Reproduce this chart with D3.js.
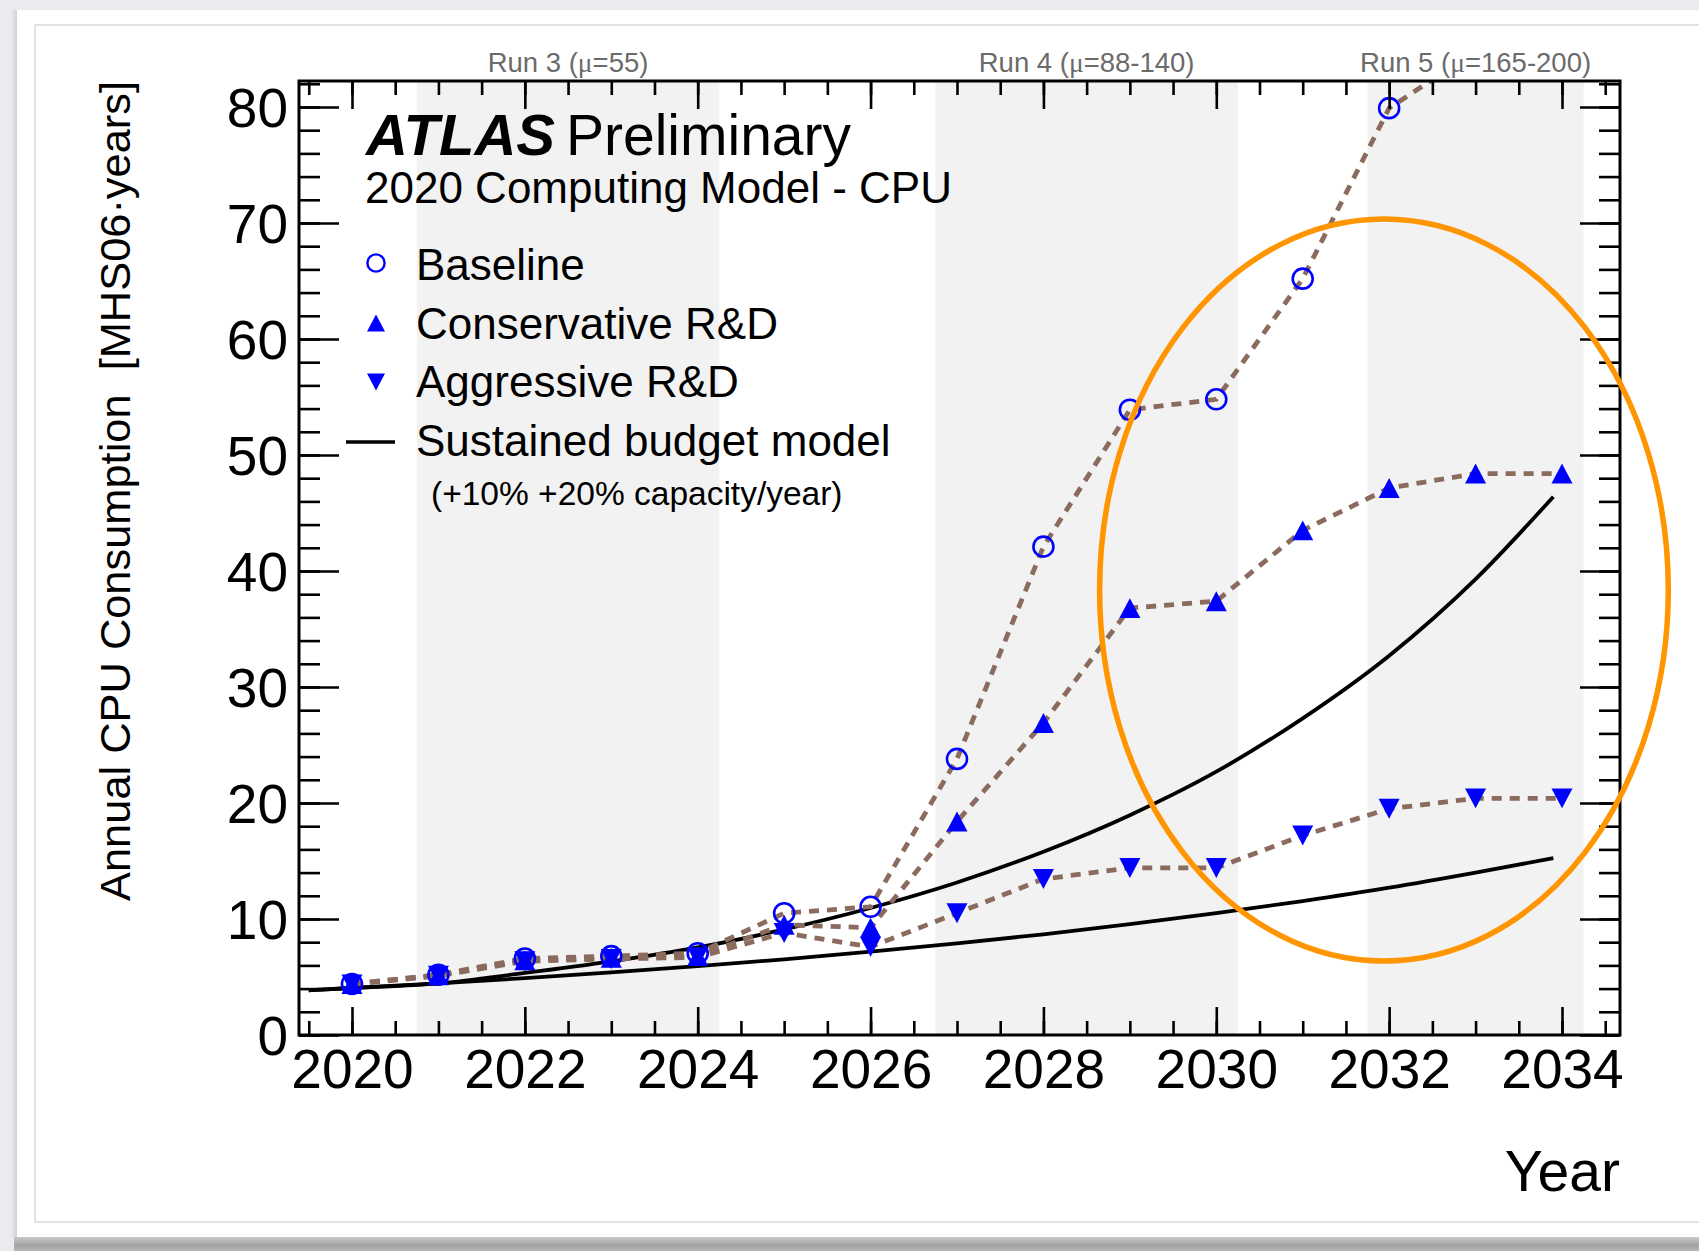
<!DOCTYPE html>
<html>
<head>
<meta charset="utf-8">
<script src="https://cdn.jsdelivr.net/npm/d3@7"></script>
<style>
  html, body { margin: 0; padding: 0; background: #e9ebee; overflow: hidden; }
  svg { display: block; }
  text { font-family: "Liberation Sans", Arial, Helvetica, sans-serif; white-space: pre; }
</style>
</head>
<body>
<svg id="chart" width="1699" height="1251"></svg>
<script>
// ---------------- data ----------------
const years = [2020, 2021, 2022, 2023, 2024, 2025, 2026, 2027, 2028, 2029, 2030, 2031, 2032, 2033, 2034];
const baseline     = [4.4, 5.2, 6.6, 6.8, 7.05, 10.5, 11.05, 23.8, 42.1, 53.9, 54.8, 65.2, 79.9, 84.8, 88.5];
const conservative = [4.4, 5.15, 6.45, 6.65, 6.8, 9.5, 9.25, 18.4, 26.9, 36.8, 37.4, 43.5, 47.15, 48.4, 48.4];
const aggressive   = [4.35, 5.1, 6.35, 6.55, 6.7, 8.8, 7.6, 10.5, 13.45, 14.4, 14.4, 17.2, 19.5, 20.4, 20.4];

const budgetYears = [2019.5, 2020, 2021, 2022, 2023, 2024, 2025, 2026, 2027, 2028, 2029, 2030, 2031, 2032, 2033, 2033.9];
const budget10 = [3.85, 4.05, 4.45, 4.9, 5.4, 5.93, 6.52, 7.18, 7.9, 8.68, 9.55, 10.5, 11.55, 12.7, 14.0, 15.25];
const budget20 = [3.85, 4.05, 4.45, 5.35, 6.35, 7.55, 9.1, 10.95, 13.15, 15.8, 18.95, 22.7, 27.3, 32.7, 39.3, 46.4];

const runBands  = [[2020.75, 2024.25], [2026.75, 2030.25], [2031.75, 2034.25]];
const runNames  = ["Run 3 (", "Run 4 (", "Run 5 ("];
const runMu     = ["=55)", "=88-140)", "=165-200)"];

const xTickLabels = [2020, 2022, 2024, 2026, 2028, 2030, 2032, 2034];
const yTickLabels = [0, 10, 20, 30, 40, 50, 60, 70, 80];

const legendLabels = ["Baseline", "Conservative R&D", "Aggressive R&D", "Sustained budget model"];
const legendNote = "(+10% +20% capacity/year)";

// highlight ellipse (data coordinates)
const ellipseCenter = [2031.94, 38.36];
const ellipseRadii  = [3.29, 31.98];

// ---------------- layout ----------------
const svg = d3.select("#chart");
const L = 299, R = 1620, T = 81, B = 1035;

const x = d3.scaleLinear().domain([2019.387, 2034.671]).range([L, R]);
const y = d3.scaleLinear().domain([0, 82.24]).range([B, T]);

// ---------------- page card ----------------
const defs = svg.append("defs");
const gShadow = defs.append("linearGradient").attr("id", "bshadow").attr("x1", 0).attr("y1", 0).attr("x2", 0).attr("y2", 1);
gShadow.append("stop").attr("offset", "0%").attr("stop-color", "#c9c9c9");
gShadow.append("stop").attr("offset", "60%").attr("stop-color", "#a3a3a3");
gShadow.append("stop").attr("offset", "100%").attr("stop-color", "#b5b7ba");
const lShadow = defs.append("linearGradient").attr("id", "lshadow").attr("x1", 0).attr("y1", 0).attr("x2", 1).attr("y2", 0);
lShadow.append("stop").attr("offset", "0%").attr("stop-color", "#e9ebee");
lShadow.append("stop").attr("offset", "100%").attr("stop-color", "#cfd1d4");

svg.append("rect").attr("x", 0).attr("y", 0).attr("width", 1699).attr("height", 1251).attr("fill", "#e9ebee");
svg.append("rect").attr("x", 11).attr("y", 10).attr("width", 6).attr("height", 1227).attr("fill", "url(#lshadow)");
svg.append("rect").attr("x", 14).attr("y", 1237).attr("width", 1685).attr("height", 14).attr("fill", "url(#bshadow)");
svg.append("rect").attr("x", 17).attr("y", 10).attr("width", 1690).attr("height", 1227).attr("fill", "#ffffff");
svg.append("rect").attr("x", 35).attr("y", 25).attr("width", 1700).attr("height", 1197)
  .attr("fill", "none").attr("stroke", "#d9d9d9").attr("stroke-width", 1.5);

// ---------------- run bands ----------------
svg.append("g").selectAll("rect").data(runBands).join("rect")
  .attr("x", d => x(d[0])).attr("y", T)
  .attr("width", d => x(d[1]) - x(d[0])).attr("height", B - T)
  .attr("fill", "#f2f2f2");

// run labels
const runLbl = svg.append("g").selectAll("text").data(runBands).join("text")
  .attr("x", d => x((d[0] + d[1]) / 2)).attr("y", 71.5)
  .attr("text-anchor", "middle").attr("font-size", 27.5).attr("fill", "#6b6b6b");
runLbl.append("tspan").text((d, i) => runNames[i]);
runLbl.append("tspan").attr("font-family", "'Liberation Serif', 'DejaVu Serif', serif").text("\u03BC");
runLbl.append("tspan").text((d, i) => runMu[i]);

// ---------------- clip ----------------
defs.append("clipPath").attr("id", "frameClip").append("rect")
  .attr("x", L).attr("y", T).attr("width", R - L).attr("height", B - T);

const plot = svg.append("g").attr("clip-path", "url(#frameClip)");

// sustained budget curves
const budgetLine = d3.line().x(d => x(d[0])).y(d => y(d[1])).curve(d3.curveMonotoneX);
[budget10, budget20].forEach(vals => {
  plot.append("path")
    .attr("d", budgetLine(budgetYears.map((yr, i) => [yr, vals[i]])))
    .attr("fill", "none").attr("stroke", "#000").attr("stroke-width", 3.8);
});

// dashed model lines
const modelLine = d3.line().x(d => x(d[0])).y(d => y(d[1]));
[baseline, conservative, aggressive].forEach(vals => {
  plot.append("path")
    .attr("d", modelLine(years.map((yr, i) => [yr, vals[i]])))
    .attr("fill", "none").attr("stroke", "#8a6b5e").attr("stroke-width", 4.8)
    .attr("stroke-dasharray", "10,8");
});

// markers
const triSize = 21;
function triPath(up, s) {
  const h = s * 0.95, w = s;
  return up
    ? `M0,${-h/2}L${w/2},${h/2}L${-w/2},${h/2}Z`
    : `M0,${h/2}L${w/2},${-h/2}L${-w/2},${-h/2}Z`;
}
plot.append("g").selectAll("circle").data(years.map((yr, i) => [yr, baseline[i]])).join("circle")
  .attr("cx", d => x(d[0])).attr("cy", d => y(d[1])).attr("r", 10)
  .attr("fill", "none").attr("stroke", "#0000ff").attr("stroke-width", 2.6);
plot.append("g").selectAll("path").data(years.map((yr, i) => [yr, conservative[i]])).join("path")
  .attr("transform", d => `translate(${x(d[0])},${y(d[1])})`)
  .attr("d", triPath(true, triSize)).attr("fill", "#0000ff");
plot.append("g").selectAll("path").data(years.map((yr, i) => [yr, aggressive[i]])).join("path")
  .attr("transform", d => `translate(${x(d[0])},${y(d[1])})`)
  .attr("d", triPath(false, triSize)).attr("fill", "#0000ff");

// ---------------- axes ----------------
const xMinor = d3.range(2019.5, 2034.6, 0.5);
const yMinor = d3.range(0, 82.1, 2);
const axStroke = 2.6;

function styleAxis(g) {
  g.select(".domain").remove();
  g.selectAll(".tick line").attr("stroke", "#000").attr("stroke-width", axStroke);
}

svg.append("g").attr("transform", `translate(0,${B})`)
  .call(d3.axisBottom(x).tickValues(xMinor).tickSize(-14).tickSizeOuter(0).tickFormat(""))
  .call(styleAxis);
svg.append("g").attr("transform", `translate(0,${T})`)
  .call(d3.axisTop(x).tickValues(xMinor).tickSize(-14).tickSizeOuter(0).tickFormat(""))
  .call(styleAxis);
svg.append("g").attr("transform", `translate(0,${T})`)
  .call(d3.axisTop(x).tickValues(xTickLabels).tickSize(-28).tickSizeOuter(0).tickFormat(""))
  .call(styleAxis);
const xAx = svg.append("g").attr("transform", `translate(0,${B})`)
  .call(d3.axisBottom(x).tickValues(xTickLabels).tickSize(-28).tickSizeOuter(0).tickFormat(d3.format("d")))
  .call(styleAxis);
xAx.selectAll(".tick text").attr("y", 53).attr("dy", null)
  .attr("font-size", 55).attr("fill", "#000")
  .attr("font-family", "'Liberation Sans', Arial, Helvetica, sans-serif");

svg.append("g").attr("transform", `translate(${L},0)`)
  .call(d3.axisLeft(y).tickValues(yMinor).tickSize(-21).tickSizeOuter(0).tickFormat(""))
  .call(styleAxis);
svg.append("g").attr("transform", `translate(${R},0)`)
  .call(d3.axisRight(y).tickValues(yMinor).tickSize(-21).tickSizeOuter(0).tickFormat(""))
  .call(styleAxis);
svg.append("g").attr("transform", `translate(${R},0)`)
  .call(d3.axisRight(y).tickValues(yTickLabels).tickSize(-40).tickSizeOuter(0).tickFormat(""))
  .call(styleAxis);
const yAx = svg.append("g").attr("transform", `translate(${L},0)`)
  .call(d3.axisLeft(y).tickValues(yTickLabels).tickSize(-40).tickSizeOuter(0).tickFormat(d3.format("d")))
  .call(styleAxis);
yAx.selectAll(".tick text").attr("x", -11).attr("dy", "0.36em")
  .attr("font-size", 55).attr("fill", "#000")
  .attr("font-family", "'Liberation Sans', Arial, Helvetica, sans-serif");

// frame
svg.append("rect").attr("x", L).attr("y", T).attr("width", R - L).attr("height", B - T)
  .attr("fill", "none").attr("stroke", "#000").attr("stroke-width", 3);

// axis titles
svg.append("text").attr("x", R).attr("y", 1191).attr("text-anchor", "end")
  .attr("font-size", 57).text("Year");
svg.append("text").attr("transform", `translate(130,${T}) rotate(-90)`).attr("text-anchor", "end")
  .attr("font-size", 43.4).text("Annual CPU Consumption  [MHS06\u00B7years]");

// ---------------- labels ----------------
svg.append("text").attr("x", 366).attr("y", 155).attr("font-size", 58)
  .attr("font-weight", "bold").attr("font-style", "italic").text("ATLAS");
svg.append("text").attr("x", 566).attr("y", 155).attr("font-size", 57).text("Preliminary");
svg.append("text").attr("x", 365).attr("y", 203).attr("font-size", 44).text("2020 Computing Model - CPU");

// legend
const legY = [263, 323, 382, 442];
const legTextY = [280, 339, 397, 456];
svg.append("circle").attr("cx", 376).attr("cy", legY[0]).attr("r", 8.6)
  .attr("fill", "none").attr("stroke", "#0000ff").attr("stroke-width", 2.4);
svg.append("path").attr("transform", `translate(376,${legY[1]})`).attr("d", triPath(true, 18)).attr("fill", "#0000ff");
svg.append("path").attr("transform", `translate(376,${legY[2]})`).attr("d", triPath(false, 18)).attr("fill", "#0000ff");
svg.append("line").attr("x1", 346).attr("x2", 395).attr("y1", legY[3]).attr("y2", legY[3])
  .attr("stroke", "#000").attr("stroke-width", 3.6);
svg.append("g").selectAll("text").data(legendLabels).join("text")
  .attr("x", 416).attr("y", (d, i) => legTextY[i]).attr("font-size", 44).text(d => d);
svg.append("text").attr("x", 431).attr("y", 505).attr("font-size", 33.5).text(legendNote);

// ---------------- highlight ellipse ----------------
svg.append("ellipse")
  .attr("cx", x(ellipseCenter[0])).attr("cy", y(ellipseCenter[1]))
  .attr("rx", x(ellipseCenter[0] + ellipseRadii[0]) - x(ellipseCenter[0]))
  .attr("ry", y(ellipseCenter[1] - ellipseRadii[1]) - y(ellipseCenter[1]))
  .attr("fill", "none").attr("stroke", "#ff9500").attr("stroke-width", 5.5);
</script>
</body>
</html>
